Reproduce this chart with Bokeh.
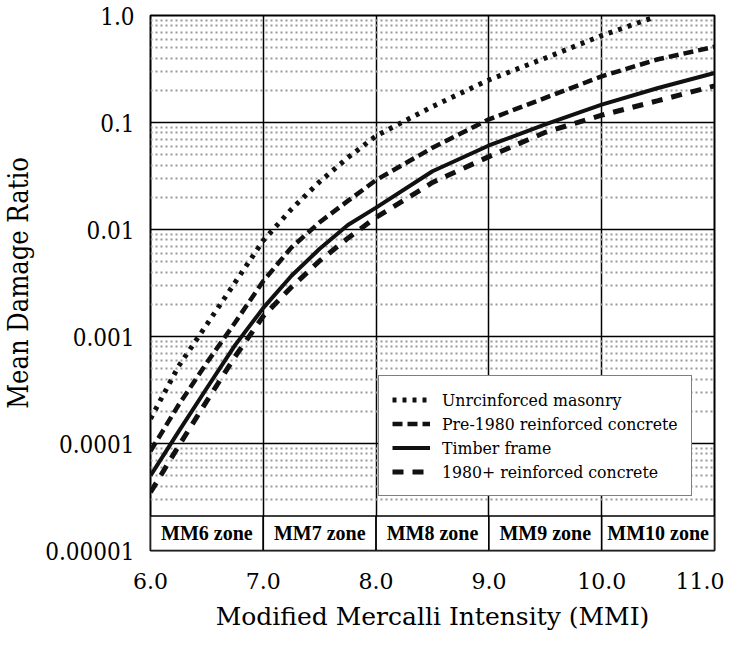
from bokeh.plotting import figure
from bokeh.models import FixedTicker, CustomJSTickFormatter, Legend, LegendItem, ColumnDataSource
from bokeh.core.properties import value
from bokeh.embed import file_html
from bokeh.resources import INLINE

# ---- data ----
mmi = [6.0, 6.25, 6.5, 6.75, 7.0, 7.25, 7.5, 7.75, 8.0, 8.5, 9.0, 9.5, 10.0, 10.5, 11.0]
masonry_x = [6.0, 6.25, 6.5, 6.75, 7.0, 7.25, 7.5, 7.75, 8.0, 8.5, 9.0, 9.5, 10.0, 10.45]
masonry = [1.7e-4, 5.3e-4, 1.3e-3, 3.2e-3, 7.9e-3, 0.0155, 0.028, 0.047, 0.075, 0.141, 0.25, 0.40, 0.65, 0.95]
pre1980 = [8.5e-5, 2.3e-4, 5.7e-4, 1.35e-3, 3.3e-3, 6.8e-3, 0.0117, 0.0185, 0.029, 0.058, 0.107, 0.17, 0.27, 0.39, 0.51]
timber = [5.0e-5, 1.3e-4, 3.3e-4, 8.3e-4, 1.85e-3, 3.7e-3, 6.6e-3, 0.011, 0.016, 0.035, 0.061, 0.096, 0.147, 0.21, 0.29]
post1980 = [3.5e-5, 9.5e-5, 2.5e-4, 6.5e-4, 1.55e-3, 2.9e-3, 5.1e-3, 8.3e-3, 0.013, 0.0275, 0.048, 0.081, 0.117, 0.16, 0.22]

series_names = ["Unrcinforced masonry", "Pre-1980 reinforced concrete", "Timber frame", "1980+ reinforced concrete"]

zone_labels = ["MM6 zone", "MM7 zone", "MM8 zone", "MM9 zone", "MM10 zone"]
zone_left = [6.0, 7.0, 8.0, 9.0, 10.0]
zone_right = [7.0, 8.0, 9.0, 10.0, 11.0]
zone_bottom = 1e-5
zone_top = 2.1e-5

x_ticks = [6.0, 7.0, 8.0, 9.0, 10.0, 11.0]
x_tick_labels = ["6.0", "7.0", "8.0", "9.0", "10.0", "11.0"]
y_ticks = [1e-5, 1e-4, 1e-3, 1e-2, 1e-1, 1.0]
y_tick_labels = ["0.00001", "0.0001", "0.001", "0.01", "0.1", "1.0"]

FONT = "Liberation Serif"
SERIF = "DejaVu Serif"
SERIF_C = "DejaVu Serif Condensed"

p = figure(width=724, height=633, x_range=(6.0, 11.0), y_range=(1e-5, 1.0),
           y_axis_type="log", output_backend="svg", toolbar_location=None,
           min_border_left=145, min_border_right=10, min_border_top=15, min_border_bottom=83)
p.background_fill_color = "white"
p.border_fill_color = "white"
p.outline_line_color = "black"
p.outline_line_width = 2

minor = [k * d for d in y_ticks[:-1] for k in range(2, 10)]

fmt_code = """
let best = 0; let bd = Infinity;
for (let i = 0; i < tvals.length; i++) {
  const d = Math.abs(Math.log(tick) - Math.log(tvals[i]));
  if (d < bd) { bd = d; best = i; }
}
return tlabels[best];
"""
p.xaxis.ticker = FixedTicker(ticks=x_ticks)
p.xaxis.formatter = CustomJSTickFormatter(args=dict(tvals=x_ticks, tlabels=x_tick_labels), code=fmt_code)
p.yaxis.ticker = FixedTicker(ticks=y_ticks, minor_ticks=minor)
p.yaxis.formatter = CustomJSTickFormatter(args=dict(tvals=y_ticks, tlabels=y_tick_labels), code=fmt_code)

p.xaxis.axis_line_color = None
p.yaxis.axis_line_color = None
p.xaxis.major_tick_line_color = None
p.yaxis.major_tick_line_color = None
p.xaxis.minor_tick_line_color = None
p.yaxis.minor_tick_line_color = None

p.xaxis.major_label_text_font = SERIF
p.yaxis.major_label_text_font = SERIF_C
p.xaxis.axis_label_text_font = SERIF
p.yaxis.axis_label_text_font = SERIF_C
p.xaxis.major_label_text_font_size = "22px"
p.yaxis.major_label_text_font_size = "24px"
p.xaxis.axis_label_text_font_size = "25px"
p.yaxis.axis_label_text_font_size = "27px"
p.xaxis.axis_label_text_font_style = "normal"
p.yaxis.axis_label_text_font_style = "normal"
p.xaxis.major_label_text_color = "black"
p.yaxis.major_label_text_color = "black"
p.xaxis.axis_label_text_color = "black"
p.yaxis.axis_label_text_color = "black"

p.xaxis.axis_label = "Modified Mercalli Intensity (MMI)"
p.yaxis.axis_label = "Mean Damage Ratio"
p.xaxis.major_label_standoff = 16
p.xaxis.axis_label_standoff = 10
p.yaxis.major_label_standoff = 10
p.yaxis.axis_label_standoff = 8

p.xgrid.grid_line_color = "black"
p.xgrid.grid_line_width = 1.5
p.ygrid.grid_line_color = "black"
p.ygrid.grid_line_width = 1.5
p.ygrid.minor_grid_line_color = "#999999"
p.ygrid.minor_grid_line_width = 2
p.ygrid.minor_grid_line_dash = "2 3"

# zone boxes
zsrc = ColumnDataSource(dict(left=zone_left, right=zone_right,
                             cx=[(a + b) / 2 for a, b in zip(zone_left, zone_right)],
                             label=zone_labels))
p.quad(left="left", right="right", bottom=zone_bottom, top=zone_top, source=zsrc,
       fill_color="white", line_color="black", line_width=1.6)
p.text(x="cx", y=(zone_bottom * zone_top) ** 0.5, text="label", source=zsrc,
       text_align="center", text_baseline="middle", text_font=value(FONT),
       text_font_size="20px", text_font_style="bold", text_color="black")

r1 = p.line(masonry_x, masonry, line_color="#111111", line_width=5, line_dash="4 6")
r2 = p.line(mmi, pre1980, line_color="#111111", line_width=4.5, line_dash="10 5")
r3 = p.line(mmi, timber, line_color="#111111", line_width=4)
r4 = p.line(mmi, post1980, line_color="#111111", line_width=5, line_dash="11 9")

legend = Legend(items=[LegendItem(label=series_names[0], renderers=[r1]),
                       LegendItem(label=series_names[1], renderers=[r2]),
                       LegendItem(label=series_names[2], renderers=[r3]),
                       LegendItem(label=series_names[3], renderers=[r4])],
                location=(228, 54))
legend.label_text_font = SERIF_C
legend.label_text_font_size = "17.5px"
legend.label_text_color = "black"
legend.label_height = 21
legend.glyph_height = 21
legend.glyph_width = 38
legend.spacing = 3
legend.padding = 13
legend.label_standoff = 12
legend.border_line_color = "black"
legend.border_line_width = 1.5
legend.background_fill_color = "white"
legend.background_fill_alpha = 1.0
p.add_layout(legend)

open("out.html", "w").write(file_html(p, INLINE))
